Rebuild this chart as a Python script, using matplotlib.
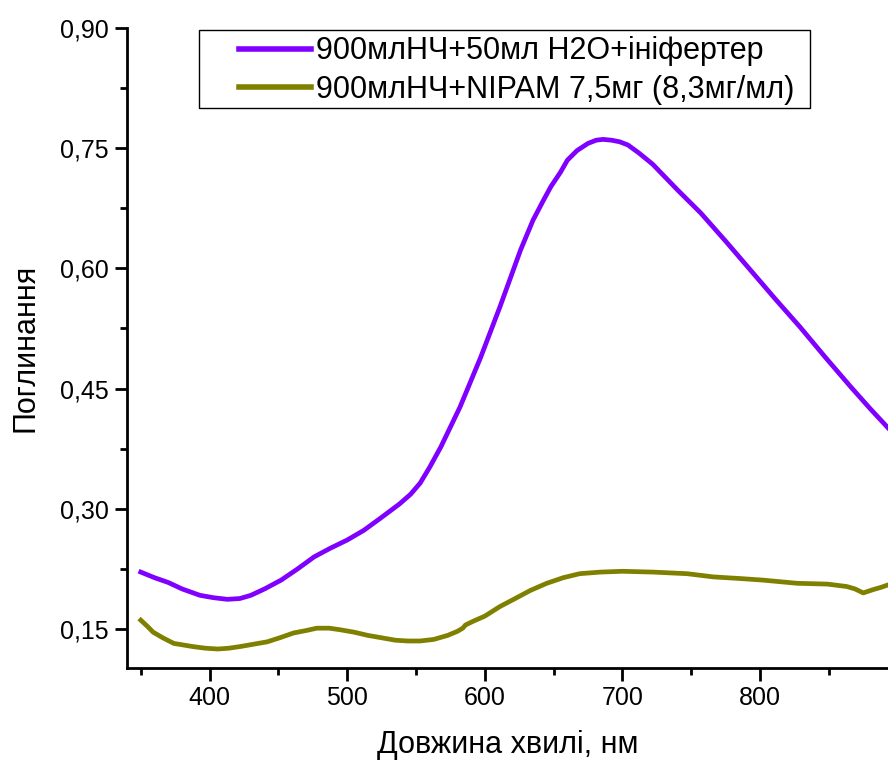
import matplotlib.pyplot as plt
from matplotlib.patches import Rectangle
from matplotlib.ticker import MultipleLocator, FuncFormatter

plt.rcParams['font.family'] = ['Liberation Sans', 'DejaVu Sans']

# purple series: 900млНЧ+50мл H2O+ініфертер
wl_a = [350, 360, 370, 380, 393, 403, 413, 422, 430, 440, 452, 464, 476, 488, 500, 512, 524,
        538, 546, 553, 560, 568, 582, 597, 611, 626, 635, 642, 648, 655, 660, 667, 675, 681,
        686, 692, 698, 704, 712, 722, 731, 740, 757, 775, 793, 811, 829, 847, 866, 880, 893]
abs_a = [0.221, 0.214, 0.208, 0.200, 0.192, 0.189, 0.187, 0.188, 0.192, 0.200, 0.211, 0.225,
         0.240, 0.251, 0.261, 0.273, 0.288, 0.306, 0.318, 0.332, 0.352, 0.377, 0.427, 0.489,
         0.552, 0.623, 0.660, 0.683, 0.702, 0.720, 0.735, 0.747, 0.756, 0.760, 0.761, 0.760,
         0.758, 0.754, 0.744, 0.730, 0.714, 0.698, 0.669, 0.634, 0.598, 0.562, 0.527, 0.490,
         0.452, 0.425, 0.401]

# olive series: 900млНЧ+NIPAM 7,5мг (8,3мг/мл)
wl_b = [350, 355, 359, 366, 374, 381, 388, 397, 406, 414, 422, 432, 442, 451, 461, 470, 478,
        487, 495, 505, 515, 525, 535, 544, 553, 563, 573, 580, 584, 586, 592, 600, 611, 621,
        633, 645, 657, 669, 684, 700, 722, 747, 766, 785, 802, 827, 849, 863, 869, 875, 882,
        888, 893]
abs_b = [0.161, 0.153, 0.146, 0.139, 0.132, 0.130, 0.128, 0.126, 0.125, 0.126, 0.128, 0.131,
         0.134, 0.139, 0.145, 0.148, 0.151, 0.151, 0.149, 0.146, 0.142, 0.139, 0.136, 0.135,
         0.135, 0.137, 0.142, 0.147, 0.151, 0.155, 0.160, 0.166, 0.178, 0.187, 0.198, 0.207,
         0.214, 0.219, 0.221, 0.222, 0.221, 0.219, 0.215, 0.213, 0.211, 0.207, 0.206, 0.203,
         0.200, 0.195, 0.199, 0.202, 0.205]

label_a = '900млНЧ+50мл H2O+ініфертер'
label_b = '900млНЧ+NIPAM 7,5мг (8,3мг/мл)'

W, H = 888, 765
fig = plt.figure(figsize=(W / 100, H / 100), dpi=100)
ax = fig.add_axes([127 / W, 1 - 668 / H, 1 - 127 / W, (668 - 28) / H])

ax.plot(wl_a, abs_a, color='#8000ff', lw=3.4, label=label_a)
ax.plot(wl_b, abs_b, color='#808000', lw=3.4, label=label_b)

ax.set_xlim(340, 893)
ax.set_ylim(0.1013, 0.90)

for s in ['top', 'right']:
    ax.spines[s].set_visible(False)
for s in ['left', 'bottom']:
    ax.spines[s].set_linewidth(2)

ax.xaxis.set_major_locator(MultipleLocator(100))
ax.xaxis.set_minor_locator(MultipleLocator(50))
ax.yaxis.set_major_locator(MultipleLocator(0.15))
ax.yaxis.set_minor_locator(MultipleLocator(0.075))
ax.yaxis.set_major_formatter(FuncFormatter(lambda v, p: f'{v:.2f}'.replace('.', ',')))
ax.tick_params(which='major', direction='out', length=9, width=2, labelsize=18, pad=4)
ax.tick_params(which='minor', direction='out', length=5, width=2)

ax.set_xlabel('Довжина хвилі, нм', fontsize=22, labelpad=14)
ax.set_ylabel('Поглинання', fontsize=22, labelpad=14)

# legend box drawn separately (the original has wide left padding)
fig.patches.append(Rectangle((199 / W, 1 - 108 / H), (810 - 199) / W, 78 / H,
                             transform=fig.transFigure, fill=False, edgecolor='black',
                             lw=1, zorder=5))
leg = ax.legend(loc='center left', bbox_to_anchor=(239 / W, 1 - 70.5 / H),
                bbox_transform=fig.transFigure, fontsize=22, frameon=False,
                handlelength=2.35, handletextpad=0.16, borderpad=0,
                labelspacing=0.27, borderaxespad=0)
for line in leg.get_lines():
    line.set_linewidth(4)

fig.savefig('out.png', dpi=100)
